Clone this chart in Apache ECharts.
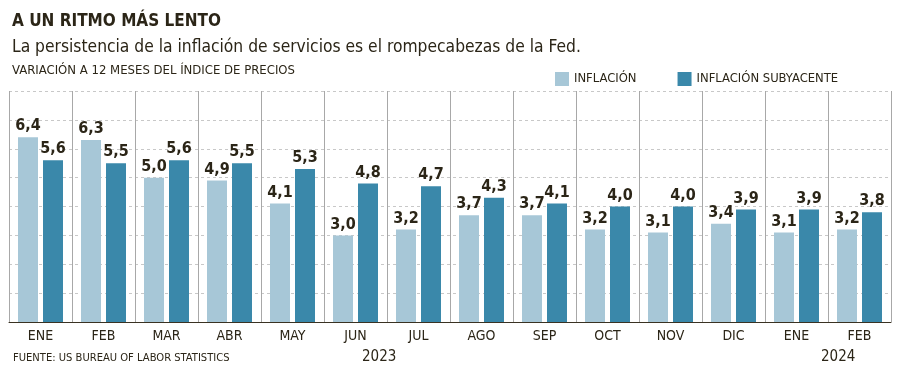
<!DOCTYPE html>
<html><head><meta charset="utf-8">
<script src="https://cdn.jsdelivr.net/npm/echarts@6/dist/echarts.min.js"></script>
<style>html,body{margin:0;padding:0;background:#fff}#c{width:900px;height:371px}</style>
</head><body><div id="c"></div>
<script>
const categories = ['ENE','FEB','MAR','ABR','MAY','JUN','JUL','AGO','SEP','OCT','NOV','DIC','ENE','FEB'];
const inflacion = [6.4,6.3,5.0,4.9,4.1,3.0,3.2,3.7,3.7,3.2,3.1,3.4,3.1,3.2];
const subyacente = [5.6,5.5,5.6,5.5,5.3,4.8,4.7,4.3,4.1,4.0,4.0,3.9,3.9,3.8];
const seriesNames = ['INFLACIÓN','INFLACIÓN SUBYACENTE'];
const yearLabels = ['2023','2024'];

const FONT = '"Liberation Sans Narrow","DejaVu Sans Condensed","Roboto Condensed","Liberation Sans",sans-serif';
const TXT = '#2b2517';
const chart = echarts.init(document.getElementById('c'));
const lbl = {show:true, position:'top', distance:3, fontFamily:FONT, fontWeight:'bold', fontSize:16, color:TXT,
  formatter: p => p.value.toFixed(1).replace('.', ',')};
chart.setOption({
  animation:false,
  textStyle:{fontFamily:FONT},
  title:[
    {text:'A UN RITMO MÁS LENTO', left:12, top:13, padding:0, textStyle:{fontFamily:FONT, fontWeight:'bold', fontSize:17, color:TXT}},
    {text:'La persistencia de la inflación de servicios es el rompecabezas de la Fed.', left:12, top:39, padding:0, textStyle:{fontFamily:FONT, fontWeight:'normal', fontSize:17.3, color:TXT}},
    {text:'VARIACIÓN A 12 MESES DEL ÍNDICE DE PRECIOS', left:12, top:64, padding:0, textStyle:{fontFamily:FONT, fontWeight:'normal', fontSize:13, color:TXT}},
    {text:'FUENTE: US BUREAU OF LABOR STATISTICS', left:13, top:353, padding:0, textStyle:{fontFamily:FONT, fontWeight:'normal', fontSize:11.1, color:TXT}}
  ],
  legend:{left:555, top:72, padding:0, itemWidth:14, itemHeight:14, itemGap:41, itemTextGap:4, icon:'rect',
    textStyle:{fontFamily:FONT, fontSize:12.9, color:TXT}, data:seriesNames},
  grid:{left:9, right:9, top:91, bottom:49},
  xAxis:{type:'category', data:categories,
    axisLine:{lineStyle:{color:'#3a3222', width:1}},
    axisTick:{show:false},
    axisLabel:{fontFamily:FONT, fontSize:14, color:TXT, margin:7},
    splitLine:{show:true, lineStyle:{color:'#a8a8a8', width:1}}},
  yAxis:{type:'value', min:0, max:8, interval:1,
    axisLabel:{show:false}, axisLine:{show:false}, axisTick:{show:false},
    splitLine:{lineStyle:{color:'#c8c8c8', type:[3,3], width:1}}},
  series:[
    {name:seriesNames[0], type:'bar', data:inflacion, barWidth:20, barGap:'25%', itemStyle:{color:'#a7c7d7'}, label:lbl},
    {name:seriesNames[1], type:'bar', data:subyacente, barWidth:20, itemStyle:{color:'#3a88aa'}, label:lbl}
  ],
  graphic:[
    {type:'text', left:362, top:350, style:{text:yearLabels[0], font:'15px '+FONT, fill:TXT}},
    {type:'text', left:821, top:350, style:{text:yearLabels[1], font:'15px '+FONT, fill:TXT}}
  ]
});
</script></body></html>
